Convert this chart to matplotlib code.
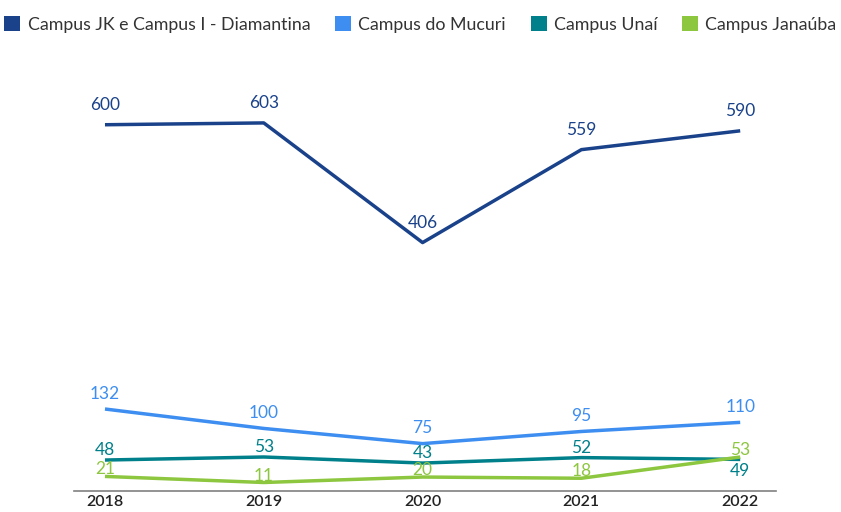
import matplotlib.pyplot as plt
from matplotlib.patches import Patch

# anos e séries por campus
years = ['2018', '2019', '2020', '2021', '2022']
diamantina = [600, 603, 406, 559, 590]
mucuri = [132, 100, 75, 95, 110]
unai = [48, 53, 43, 52, 49]
janauba = [21, 11, 20, 18, 53]

names = ['Campus JK e Campus I - Diamantina', 'Campus do Mucuri',
         'Campus Unaí', 'Campus Janaúba']
colors = ['#1a428a', '#3d8ef0', '#00808a', '#8dc63f']
series = [diamantina, mucuri, unai, janauba]

# deslocamento vertical dos rótulos (pontos), um por série
offsets = [14, 11, 7, 5]

plt.rcParams['font.family'] = ['Lato', 'DejaVu Sans']

fig = plt.figure(figsize=(8.41, 5.12), dpi=100)
ax = fig.add_axes([0.088, 0.041, 0.835, 0.834])

x = list(range(len(years)))
for vals, col, off in zip(series, colors, offsets):
    ax.plot(x, vals, color=col, linewidth=2.5, solid_capstyle='butt')
    for xi, v in zip(x, vals):
        dy = off
        # 49 da Unaí fica abaixo da linha
        if vals is unai and xi == 4:
            dy = -8
        ax.annotate(str(v), (xi, v), xytext=(0, dy), textcoords='offset points',
                    ha='center', va='center', fontsize=12.5, color=col)

ax.set_xlim(-0.195, 4.227)
ax.set_ylim(-3, 700)
ax.set_xticks(x)
ax.set_xticklabels(years, fontsize=11.5, color='#222222', fontweight='semibold')
ax.tick_params(axis='x', length=0, pad=3)
ax.set_yticks([])
for s in ['top', 'left', 'right']:
    ax.spines[s].set_visible(False)
ax.spines['bottom'].set_color('#808080')
ax.spines['bottom'].set_linewidth(1.2)

handles = [Patch(facecolor=c, edgecolor='none') for c in colors]
fig.legend(handles, names, loc='upper center', bbox_to_anchor=(0.5, 1.0),
           ncol=4, frameon=False, fontsize=12.8, handlelength=0.9,
           handleheight=0.9, handletextpad=0.4, columnspacing=1.4,
           labelcolor='#333333')

fig.savefig('out.png', dpi=100)
